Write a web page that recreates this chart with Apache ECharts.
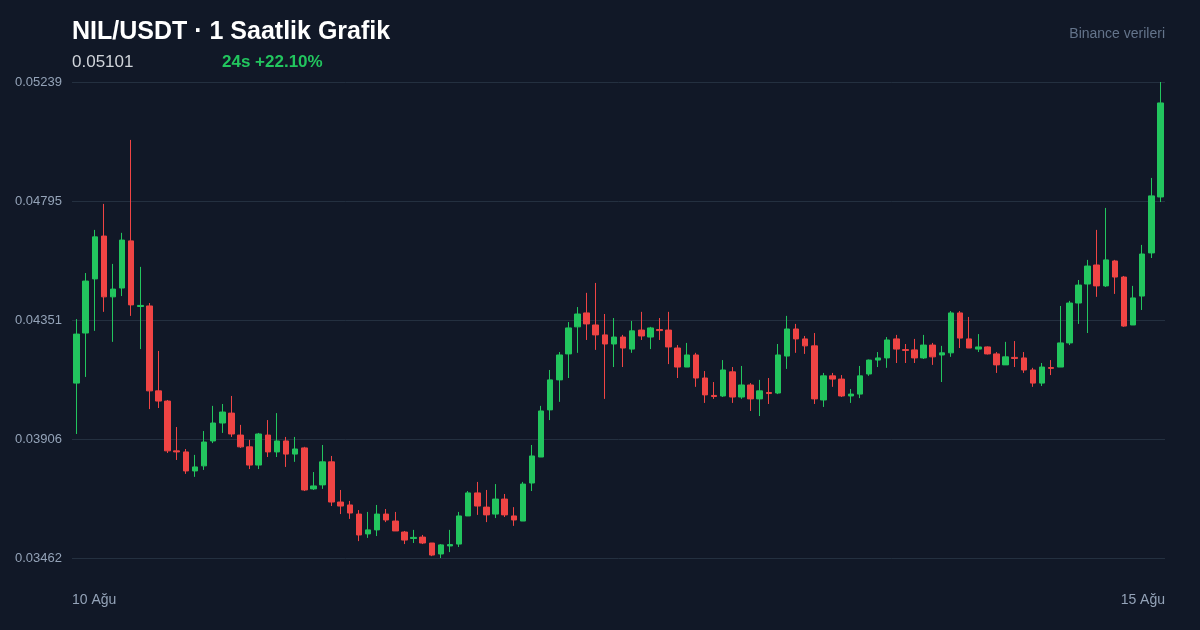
<!DOCTYPE html>
<html>
<head>
<meta charset="utf-8">
<script src="https://cdn.jsdelivr.net/npm/echarts@6/dist/echarts.min.js"></script>
<style>
  html, body { margin: 0; padding: 0; background: #111827; }
  #container { width: 1200px; height: 630px; }
</style>
</head>
<body>
<div id="container"></div>
<script>
// hourly candles, 10 Ağu -> 15 Ağu
var opens = [
  0.04115,0.04302,0.04504,0.04664,0.04437,0.04470,0.04646,0.04401,0.04403,0.04086,
  0.04048,0.03862,0.03858,0.03787,0.03806,0.03899,0.03966,0.04003,0.03921,0.03877,
  0.03809,0.03921,0.03858,0.03899,0.03850,0.03873,0.03720,0.03735,0.03821,0.03671,
  0.03660,0.03626,0.03552,0.03567,0.03626,0.03600,0.03559,0.03535,0.03540,0.03518,
  0.03477,0.03507,0.03514,0.03619,0.03705,0.03652,0.03626,0.03682,0.03619,0.03600,
  0.03742,0.03839,0.04015,0.04127,0.04224,0.04325,0.04377,0.04332,0.04295,0.04261,
  0.04287,0.04242,0.04313,0.04287,0.04315,0.04313,0.04246,0.04175,0.04220,0.04134,
  0.04069,0.04067,0.04157,0.04063,0.04108,0.04056,0.04080,0.04078,0.04216,0.04317,
  0.04280,0.04254,0.04052,0.04142,0.04130,0.04067,0.04074,0.04149,0.04201,0.04209,
  0.04280,0.04240,0.04239,0.04209,0.04257,0.04220,0.04228,0.04377,0.04280,0.04242,
  0.04250,0.04224,0.04183,0.04211,0.04209,0.04164,0.04115,0.04173,0.04175,0.04265,
  0.04414,0.04485,0.04556,0.04478,0.04571,0.04511,0.04332,0.04440,0.04601,0.04810
];
var closes = [
  0.04298,0.04496,0.04661,0.04437,0.04466,0.04649,0.04407,0.04405,0.04086,0.04048,
  0.03862,0.03858,0.03787,0.03802,0.03895,0.03966,0.04007,0.03925,0.03877,0.03809,
  0.03925,0.03858,0.03899,0.03850,0.03869,0.03716,0.03731,0.03821,0.03671,0.03656,
  0.03630,0.03548,0.03567,0.03626,0.03604,0.03563,0.03529,0.03539,0.03518,0.03473,
  0.03511,0.03512,0.03619,0.03705,0.03656,0.03623,0.03682,0.03623,0.03604,0.03738,
  0.03843,0.04011,0.04127,0.04220,0.04321,0.04373,0.04336,0.04295,0.04261,0.04287,
  0.04246,0.04310,0.04291,0.04321,0.04311,0.04250,0.04175,0.04220,0.04134,0.04071,
  0.04065,0.04164,0.04063,0.04108,0.04056,0.04086,0.04076,0.04220,0.04317,0.04280,
  0.04254,0.04056,0.04142,0.04130,0.04067,0.04074,0.04142,0.04201,0.04209,0.04276,
  0.04242,0.04237,0.04209,0.04257,0.04213,0.04228,0.04377,0.04283,0.04246,0.04250,
  0.04224,0.04183,0.04213,0.04207,0.04164,0.04115,0.04175,0.04170,0.04265,0.04414,
  0.04481,0.04552,0.04478,0.04575,0.04511,0.04328,0.04433,0.04597,0.04814,0.05161
];
var lows = [
  0.03925,0.04138,0.04310,0.04381,0.04269,0.04440,0.04366,0.04242,0.04018,0.04022,
  0.03854,0.03828,0.03776,0.03765,0.03791,0.03891,0.03929,0.03914,0.03873,0.03794,
  0.03794,0.03839,0.03839,0.03802,0.03821,0.03712,0.03716,0.03720,0.03656,0.03626,
  0.03608,0.03525,0.03537,0.03544,0.03596,0.03563,0.03514,0.03518,0.03514,0.03469,
  0.03462,0.03484,0.03503,0.03619,0.03623,0.03596,0.03611,0.03615,0.03582,0.03600,
  0.03712,0.03839,0.03977,0.04045,0.04134,0.04228,0.04276,0.04239,0.04056,0.04175,
  0.04175,0.04228,0.04276,0.04242,0.04276,0.04186,0.04134,0.04175,0.04101,0.04041,
  0.04056,0.04063,0.04041,0.04056,0.04011,0.03992,0.04037,0.04074,0.04168,0.04228,
  0.04224,0.04037,0.04026,0.04101,0.04063,0.04041,0.04059,0.04142,0.04175,0.04172,
  0.04190,0.04190,0.04190,0.04205,0.04183,0.04119,0.04213,0.04246,0.04246,0.04231,
  0.04222,0.04153,0.04183,0.04175,0.04153,0.04101,0.04104,0.04145,0.04175,0.04257,
  0.04336,0.04302,0.04437,0.04474,0.04448,0.04325,0.04332,0.04388,0.04582,0.04791
];
var highs = [
  0.04354,0.04526,0.04687,0.04784,0.04560,0.04676,0.05023,0.04549,0.04414,0.04235,
  0.04052,0.03951,0.03869,0.03847,0.03936,0.04030,0.04037,0.04067,0.03959,0.03903,
  0.03929,0.03977,0.04003,0.03914,0.03914,0.03877,0.03783,0.03884,0.03843,0.03716,
  0.03675,0.03641,0.03634,0.03660,0.03645,0.03634,0.03563,0.03567,0.03548,0.03518,
  0.03514,0.03567,0.03634,0.03712,0.03746,0.03716,0.03738,0.03701,0.03652,0.03746,
  0.03884,0.04030,0.04164,0.04231,0.04343,0.04399,0.04452,0.04489,0.04373,0.04358,
  0.04295,0.04347,0.04381,0.04325,0.04358,0.04381,0.04257,0.04265,0.04228,0.04160,
  0.04119,0.04201,0.04175,0.04179,0.04115,0.04127,0.04134,0.04261,0.04366,0.04336,
  0.04291,0.04302,0.04153,0.04153,0.04145,0.04093,0.04179,0.04203,0.04231,0.04287,
  0.04295,0.04261,0.04280,0.04295,0.04265,0.04254,0.04384,0.04384,0.04362,0.04298,
  0.04252,0.04231,0.04269,0.04272,0.04231,0.04172,0.04190,0.04201,0.04403,0.04422,
  0.04500,0.04575,0.04687,0.04769,0.04575,0.04515,0.04478,0.04631,0.04881,0.052392
];
var xLabels = ['10 Ağu', '15 Ağu'];
var yMin = 0.03462;
var yMax = 0.052392;

var lastPrice = '0.05101';
var change24 = '24s +22.10%';

var categories = [];
var candles = [];
for (var i = 0; i < opens.length; i++) {
  categories.push(i);
  candles.push([opens[i], closes[i], lows[i], highs[i]]);
}

var dom = document.getElementById('container');
var myChart = echarts.init(dom, null, { renderer: 'canvas' });

var font = 'Liberation Sans, Arial, sans-serif';
var option = {
  backgroundColor: '#111827',
  animation: false,
  title: [
    {
      text: 'NIL/USDT · 1 Saatlik Grafik',
      left: 72, top: 20, padding: 0,
      textStyle: { color: '#ffffff', fontSize: 25, fontWeight: 'bold', fontFamily: font }
    },
    {
      text: lastPrice,
      left: 72, top: 54, padding: 0,
      textStyle: { color: '#d1d5db', fontSize: 17, fontWeight: 'normal', fontFamily: font }
    },
    {
      text: change24,
      left: 222, top: 54, padding: 0,
      textStyle: { color: '#22c55e', fontSize: 17, fontWeight: 'bold', fontFamily: font }
    },
    {
      text: 'Binance verileri',
      right: 35, top: 27, padding: 0,
      textStyle: { color: '#64748b', fontSize: 14, fontWeight: 'normal', fontFamily: font }
    }
  ],
  grid: { left: 72, right: 35, top: 82, bottom: 72 },
  xAxis: [
    {
      type: 'category',
      data: categories,
      boundaryGap: true,
      axisLine: { show: false },
      axisTick: { show: false },
      splitLine: { show: false },
      axisLabel: { show: false }
    },
    {
      // edge labels sit on the plot edges, not candle centres
      type: 'value',
      position: 'bottom',
      min: 0,
      max: 1,
      interval: 1,
      axisLine: { show: false },
      axisTick: { show: false },
      splitLine: { show: false },
      axisLabel: {
        color: '#94a3b8',
        fontSize: 14,
        fontFamily: font,
        margin: 35,
        alignMinLabel: 'left',
        alignMaxLabel: 'right',
        formatter: function (v) { return xLabels[v]; }
      }
    }
  ],
  yAxis: {
    type: 'value',
    scale: true,
    min: yMin,
    max: yMax,
    interval: (yMax - yMin) / 4,
    axisLine: { show: false },
    axisTick: { show: false },
    splitLine: { lineStyle: { color: '#243040', width: 1 } },
    axisLabel: {
      color: '#94a3b8',
      fontSize: 13,
      fontFamily: font,
      margin: 10,
      formatter: function (v) { return v.toFixed(5); }
    }
  },
  series: [
    {
      type: 'candlestick',
      xAxisIndex: 0,
      data: candles,
      barWidth: 6,
      itemStyle: {
        color: '#22c55e',
        color0: '#ef4444',
        borderColor: '#22c55e',
        borderColor0: '#ef4444',
        borderWidth: 1
      }
    }
  ]
};

if (option && typeof option === 'object') {
  myChart.setOption(option);
}

window.addEventListener('resize', myChart.resize);
</script>
</body>
</html>
